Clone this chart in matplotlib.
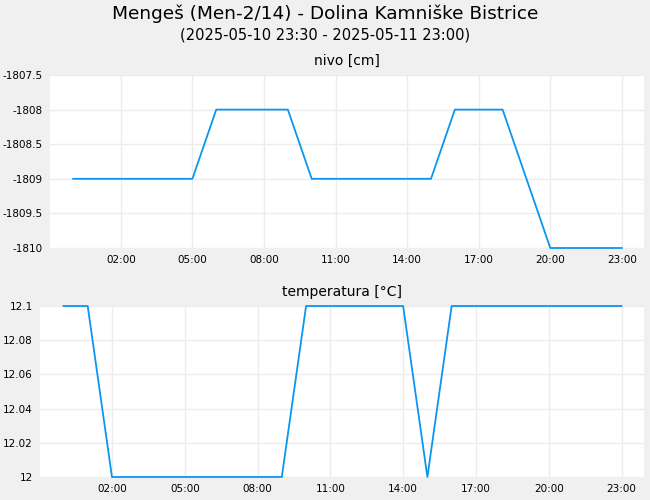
import numpy as np
import pandas as pd
import matplotlib
matplotlib.use("Agg")
import matplotlib.pyplot as plt
import matplotlib.dates as mdates
from matplotlib.ticker import FuncFormatter, MultipleLocator

# hourly readings, 2025-05-11 00:00 .. 23:00
hours = pd.date_range("2025-05-11 00:00", "2025-05-11 23:00", freq="h")

nivo = [-1809, -1809, -1809, -1809, -1809, -1809, -1808, -1808,
        -1808, -1808, -1809, -1809, -1809, -1809, -1809, -1809,
        -1808, -1808, -1808, -1809, -1810, -1810, -1810, -1810]

temperatura = [12.1, 12.1, 12.0, 12.0, 12.0, 12.0, 12.0, 12.0,
               12.0, 12.0, 12.1, 12.1, 12.1, 12.1, 12.1, 12.0,
               12.1, 12.1, 12.1, 12.1, 12.1, 12.1, 12.1, 12.1]

title = "Mengeš (Men-2/14) - Dolina Kamniške Bistrice"
subtitle = "(2025-05-10 23:30 - 2025-05-11 23:00)"

bg = "#f0f0f0"
line_col = "#0a96f0"
grid_col = "#ececec"

fig = plt.figure(figsize=(6.5, 5), dpi=100, facecolor=bg)
fig.text(0.5, 0.972, title, ha="center", va="center", fontsize=13.3)
fig.text(0.5, 0.931, subtitle, ha="center", va="center", fontsize=10.5)

ax1 = fig.add_axes([0.077, 0.504, 0.914, 0.346])
ax2 = fig.add_axes([0.0615, 0.046, 0.9295, 0.342])

xmin = pd.Timestamp("2025-05-10 23:02")
xmax = pd.Timestamp("2025-05-11 23:56")

fmt = FuncFormatter(lambda v, p: "{:g}".format(round(v, 6)))

for ax, vals, name, lo, hi, step in [
    (ax1, nivo, "nivo [cm]", -1810, -1807.5, 0.5),
    (ax2, temperatura, "temperatura [°C]", 12.0, 12.1, 0.02),
]:
    ax.set_facecolor("white")
    ax.plot(hours, vals, color=line_col, lw=1.3, clip_on=False)
    ax.set_xlim(xmin, xmax)
    ax.set_ylim(lo, hi)
    ax.yaxis.set_major_locator(MultipleLocator(step))
    ax.yaxis.set_major_formatter(fmt)
    ax.xaxis.set_major_locator(mdates.HourLocator(byhour=range(2, 24, 3)))
    ax.xaxis.set_major_formatter(mdates.DateFormatter("%H:%M"))
    ax.grid(True, color=grid_col, lw=1)
    ax.set_axisbelow(True)
    for s in ax.spines.values():
        s.set_visible(False)
    ax.tick_params(length=0, labelsize=7.5, pad=5)
    ax.set_title(name, fontsize=10, pad=7)

fig.savefig("out.png", dpi=100, facecolor=bg)
